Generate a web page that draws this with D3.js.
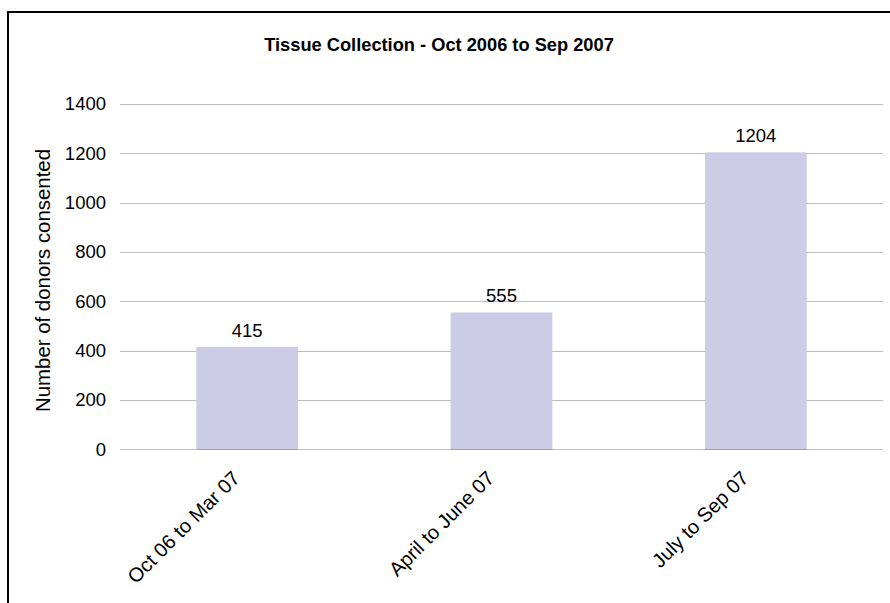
<!DOCTYPE html>
<html><head><meta charset="utf-8">
<script src="https://cdn.jsdelivr.net/npm/d3@7"></script>
<style>body{margin:0;background:#fff}svg{display:block}text{font-family:"Liberation Sans",Arial,sans-serif}</style>
</head><body>
<script>
const categories = ["Oct 06 to Mar 07", "April to June 07", "July to Sep 07"];
const values = [415, 555, 1204];
const yTicks = [0, 200, 400, 600, 800, 1000, 1200, 1400];
const title = "Tissue Collection - Oct 2006 to Sep 2007";
const yTitle = "Number of donors consented";

const W = 890, H = 603;
const svg = d3.select("body").append("svg").attr("width", W).attr("height", H);
svg.append("rect").attr("x", 0).attr("y", 0).attr("width", W).attr("height", H).attr("fill", "#fff");
svg.append("rect").attr("x", 8).attr("y", 12).attr("width", 900).attr("height", 620)
  .attr("fill", "none").attr("stroke", "#000").attr("stroke-width", 2);

const mLeft = 120, mRight = 883, mTop = 104, mBottom = 449.3;
const x = d3.scaleBand().domain(categories).range([mLeft, mRight]).paddingInner(0.6).paddingOuter(0.3);
const y = d3.scaleLinear().domain([0, 1400]).range([mBottom, mTop]);

// gridlines
svg.append("g").selectAll("line").data(yTicks).join("line")
  .attr("x1", mLeft).attr("x2", mRight)
  .attr("y1", d => Math.round(y(d)) + 0.5).attr("y2", d => Math.round(y(d)) + 0.5)
  .attr("stroke", "#BEBEBE").attr("stroke-width", 1);

// y tick labels
svg.append("g").selectAll("text").data(yTicks).join("text")
  .attr("x", 106).attr("y", d => y(d)).attr("dy", "0.35em")
  .attr("text-anchor", "end").attr("font-size", 18.5).attr("fill", "#000")
  .text(d => d);

// bars
svg.append("g").selectAll("rect").data(values).join("rect")
  .attr("x", (d, i) => x(categories[i])).attr("width", x.bandwidth())
  .attr("y", d => y(d)).attr("height", d => y(0) - y(d))
  .attr("fill", "#CCCCE6");
svg.append("g").selectAll("line").data(values).join("line")
  .attr("x1", (d, i) => x(categories[i])).attr("x2", (d, i) => x(categories[i]) + x.bandwidth())
  .attr("y1", Math.round(y(0)) + 0.5).attr("y2", Math.round(y(0)) + 0.5)
  .attr("stroke", "#9E9EB8").attr("stroke-width", 1);

// value labels
svg.append("g").selectAll("text").data(values).join("text")
  .attr("x", (d, i) => x(categories[i]) + x.bandwidth() / 2).attr("y", d => y(d) - 10)
  .attr("text-anchor", "middle").attr("font-size", 18.5).attr("fill", "#000")
  .text(d => d);

// x labels
svg.append("g").selectAll("text").data(categories).join("text")
  .attr("transform", d => `translate(${x(d) + x.bandwidth() / 2 - 6},${mBottom + 30}) rotate(-45)`)
  .attr("text-anchor", "end").attr("font-size", 20).attr("fill", "#000")
  .text(d => d);

// title
svg.append("text").attr("x", 439).attr("y", 50.5).attr("text-anchor", "middle")
  .attr("font-size", 18.25).attr("font-weight", "bold").attr("fill", "#000").text(title);

// y title
svg.append("text").attr("transform", `translate(50,280.5) rotate(-90)`)
  .attr("text-anchor", "middle").attr("font-size", 20.4).attr("fill", "#000").text(yTitle);
</script>
</body></html>
